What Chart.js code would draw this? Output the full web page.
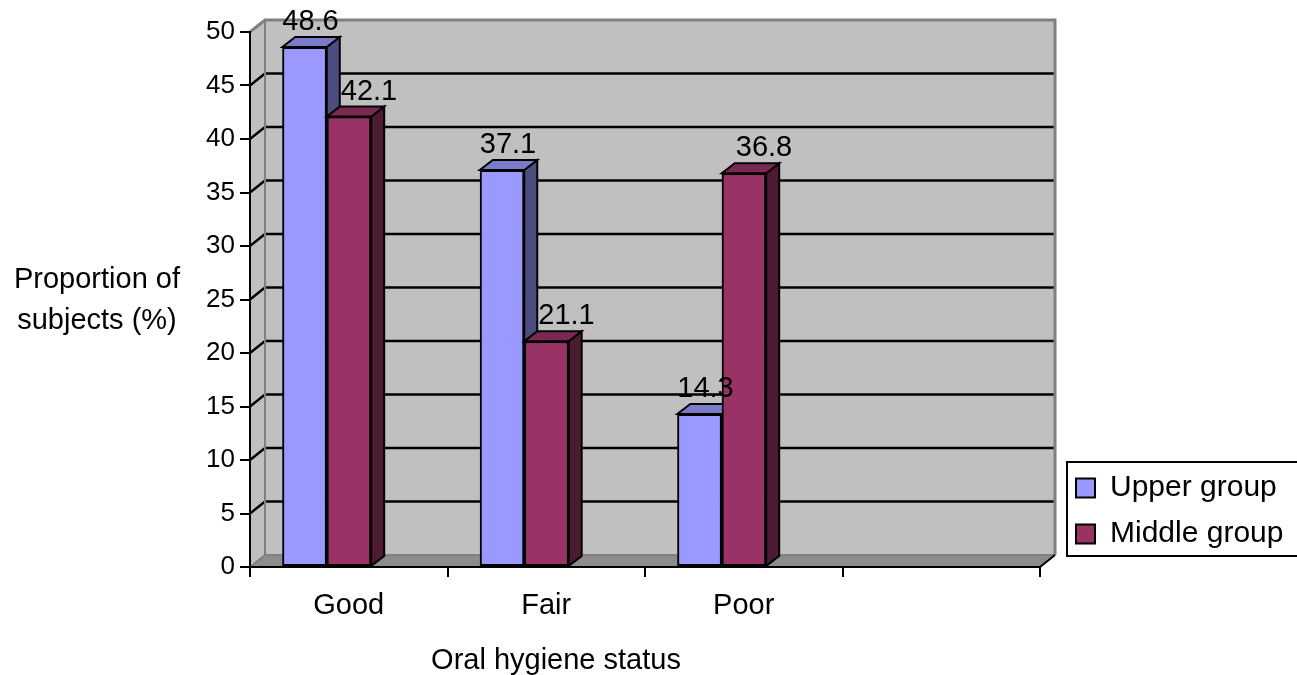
<!DOCTYPE html>
<html><head><meta charset="utf-8">
<script src="https://cdn.jsdelivr.net/npm/chart.js@4.4.1/dist/chart.umd.min.js"></script>
<style>html,body{margin:0;padding:0;background:#fff;}</style>
</head><body>
<canvas id="c" width="1297" height="675"></canvas>
<script>
// ---- data ----
const categories = ['Good', 'Fair', 'Poor', ''];
const seriesNames = ['Upper group', 'Middle group'];
const upperGroup = [48.6, 37.1, 14.3, null];
const middleGroup = [42.1, 21.1, 36.8, null];
const yMin = 0, yMax = 50, yStep = 5;
const xTitle = 'Oral hygiene status';
const yTitleLines = ['Proportion of', 'subjects (%)'];

// ---- style ----
const FONT = "'Liberation Sans', Arial, sans-serif";
const WALL = {dx: 15, dy: -12};
const BAR3D = {dx: 13, dy: -10};
const BAR_SHIFT = -22;
const LABEL_DX = [6, 20];
const LABEL_DY = -25;
const frontColors = ['#9999ff', '#993366'];
const faceColors = [{top: '#7b7bcc', side: '#4d4d80'}, {top: '#7a2952', side: '#4d1a33'}];

function poly(ctx, pts, fill) {
  ctx.beginPath();
  ctx.moveTo(pts[0][0], pts[0][1]);
  for (let i = 1; i < pts.length; i++) ctx.lineTo(pts[i][0], pts[i][1]);
  ctx.closePath();
  if (fill) { ctx.fillStyle = fill; ctx.fill(); }
  ctx.stroke();
}

const threeD = {
  id: 'threeD',
  afterLayout(chart) {
    const lg = chart.legend;
    if (!lg) return;
    lg.left = 1060; lg.right = 1297; lg.width = lg.right - lg.left;
    lg.top = 457; lg.bottom = 640; lg.height = lg.bottom - lg.top;
  },
  beforeDraw(chart) {
    const {ctx, chartArea: a} = chart;
    const {dx, dy} = WALL;
    ctx.save();
    ctx.fillStyle = '#c0c0c0';
    ctx.beginPath();
    ctx.moveTo(a.left, a.top); ctx.lineTo(a.left + dx, a.top + dy);
    ctx.lineTo(a.left + dx, a.bottom + dy); ctx.lineTo(a.left, a.bottom);
    ctx.closePath(); ctx.fill();
    ctx.fillRect(a.left + dx, a.top + dy, a.right - a.left, a.bottom - a.top);
    ctx.fillStyle = '#8c8c8c';
    ctx.beginPath();
    ctx.moveTo(a.left, a.bottom); ctx.lineTo(a.left + dx, a.bottom + dy);
    ctx.lineTo(a.right + dx, a.bottom + dy); ctx.lineTo(a.right, a.bottom);
    ctx.closePath(); ctx.fill();

    const ys = chart.scales.y;
    ctx.strokeStyle = '#000'; ctx.lineWidth = 2.4;
    ys.ticks.forEach(t => {
      if (t.value === yMin || t.value === yMax) return;
      const y = ys.getPixelForValue(t.value);
      ctx.beginPath();
      ctx.moveTo(a.left, y); ctx.lineTo(a.left + dx, y + dy); ctx.lineTo(a.right + dx, y + dy);
      ctx.stroke();
    });
    ctx.strokeStyle = '#808080'; ctx.lineWidth = 3;
    ctx.beginPath();
    ctx.moveTo(a.left, a.top); ctx.lineTo(a.left + dx, a.top + dy);
    ctx.lineTo(a.right + dx, a.top + dy); ctx.lineTo(a.right + dx, a.bottom + dy);
    ctx.stroke();
    ctx.lineWidth = 2;
    ctx.beginPath();
    ctx.moveTo(a.left + dx, a.top + dy); ctx.lineTo(a.left + dx, a.bottom + dy);
    ctx.lineTo(a.right + dx, a.bottom + dy);
    ctx.stroke();
    ctx.beginPath();
    ctx.moveTo(a.left, a.bottom); ctx.lineTo(a.left + dx, a.bottom + dy);
    ctx.stroke();
    ctx.strokeStyle = '#000';
    ctx.beginPath();
    ctx.moveTo(a.right, a.bottom); ctx.lineTo(a.right + dx, a.bottom + dy);
    ctx.stroke();
    ctx.restore();
  },
  beforeDatasetsDraw(chart) {
    chart.ctx.save();
    chart.ctx.translate(BAR_SHIFT, 0);
  },
  afterDatasetsDraw(chart) {
    const ctx = chart.ctx;
    const metas = chart.getSortedVisibleDatasetMetas().slice().sort((p, q) => p.index - q.index);
    const {dx, dy} = BAR3D;
    for (let i = 0; i < categories.length; i++) {
      metas.forEach(meta => {
        const v = chart.data.datasets[meta.index].data[i];
        const el = meta.data[i];
        if (v == null || !el) return;
        el.draw(ctx);
        const p = el.getProps(['x', 'y', 'base', 'width'], true);
        const l = p.x - p.width / 2, r = p.x + p.width / 2;
        const t = Math.min(p.y, p.base), b = Math.max(p.y, p.base);
        const fc = faceColors[meta.index];
        ctx.save();
        ctx.lineWidth = 2; ctx.strokeStyle = '#000'; ctx.lineJoin = 'miter';
        poly(ctx, [[r, t], [r + dx, t + dy], [r + dx, b + dy], [r, b]], fc.side);
        poly(ctx, [[l, t], [l + dx, t + dy], [r + dx, t + dy], [r, t]], fc.top);
        ctx.restore();
      });
    }
    ctx.save();
    ctx.font = '29px ' + FONT;
    ctx.fillStyle = '#000'; ctx.textAlign = 'center'; ctx.textBaseline = 'middle';
    metas.forEach(meta => {
      meta.data.forEach((el, i) => {
        const v = chart.data.datasets[meta.index].data[i];
        if (v == null) return;
        ctx.fillText(v.toFixed(1), el.x + LABEL_DX[meta.index], el.y + LABEL_DY);
      });
    });
    ctx.restore();
    ctx.restore();
  },
  afterDraw(chart) {
    const ctx = chart.ctx;
    ctx.save();
    ctx.font = '29px ' + FONT;
    ctx.fillStyle = '#000'; ctx.textAlign = 'center'; ctx.textBaseline = 'middle';
    ctx.fillText(yTitleLines[0], 97, 280);
    ctx.fillText(yTitleLines[1], 97, 321);
    ctx.fillText(xTitle, 556, 661);
    // legend frame
    const lg = chart.legend;
    ctx.strokeStyle = '#000'; ctx.lineWidth = 2;
    ctx.strokeRect(lg.left + 7, 462, 260, 94);
    ctx.restore();
  }
};

new Chart(document.getElementById('c'), {
  type: 'bar',
  data: {
    labels: categories,
    datasets: [
      {label: seriesNames[0], data: upperGroup, backgroundColor: frontColors[0], borderColor: '#000',
       borderWidth: 2, borderSkipped: false, categoryPercentage: 0.45, barPercentage: 1},
      {label: seriesNames[1], data: middleGroup, backgroundColor: frontColors[1], borderColor: '#000',
       borderWidth: 2, borderSkipped: false, categoryPercentage: 0.45, barPercentage: 1}
    ]
  },
  options: {
    responsive: false,
    animation: false,
    devicePixelRatio: 1,
    layout: {padding: {left: 0, top: 32, right: 257, bottom: 0}},
    plugins: {
      tooltip: {enabled: false},
      title: {display: false},
      legend: {
        position: 'chartArea', align: 'start',
        labels: {font: {family: FONT, size: 30}, color: '#000', boxWidth: 19, boxHeight: 19, padding: 16}
      }
    },
    scales: {
      x: {
        type: 'category', offset: true,
        grid: {offset: true, drawOnChartArea: false, drawTicks: true, tickLength: 10, color: '#000', lineWidth: 2},
        border: {display: true, color: '#000', width: 2},
        ticks: {font: {family: FONT, size: 29}, color: '#000', padding: 12, maxRotation: 0, autoSkip: false},
        afterFit: s => { s.height = 108; }
      },
      y: {
        min: yMin, max: yMax,
        ticks: {stepSize: yStep, font: {family: FONT, size: 26}, color: '#000', padding: 5},
        grid: {drawOnChartArea: false, tickLength: 10, color: '#000', lineWidth: 2},
        border: {display: true, color: '#000', width: 2},
        afterFit: s => { s.width = 250; }
      }
    }
  },
  plugins: [threeD]
});
</script>
</body></html>
